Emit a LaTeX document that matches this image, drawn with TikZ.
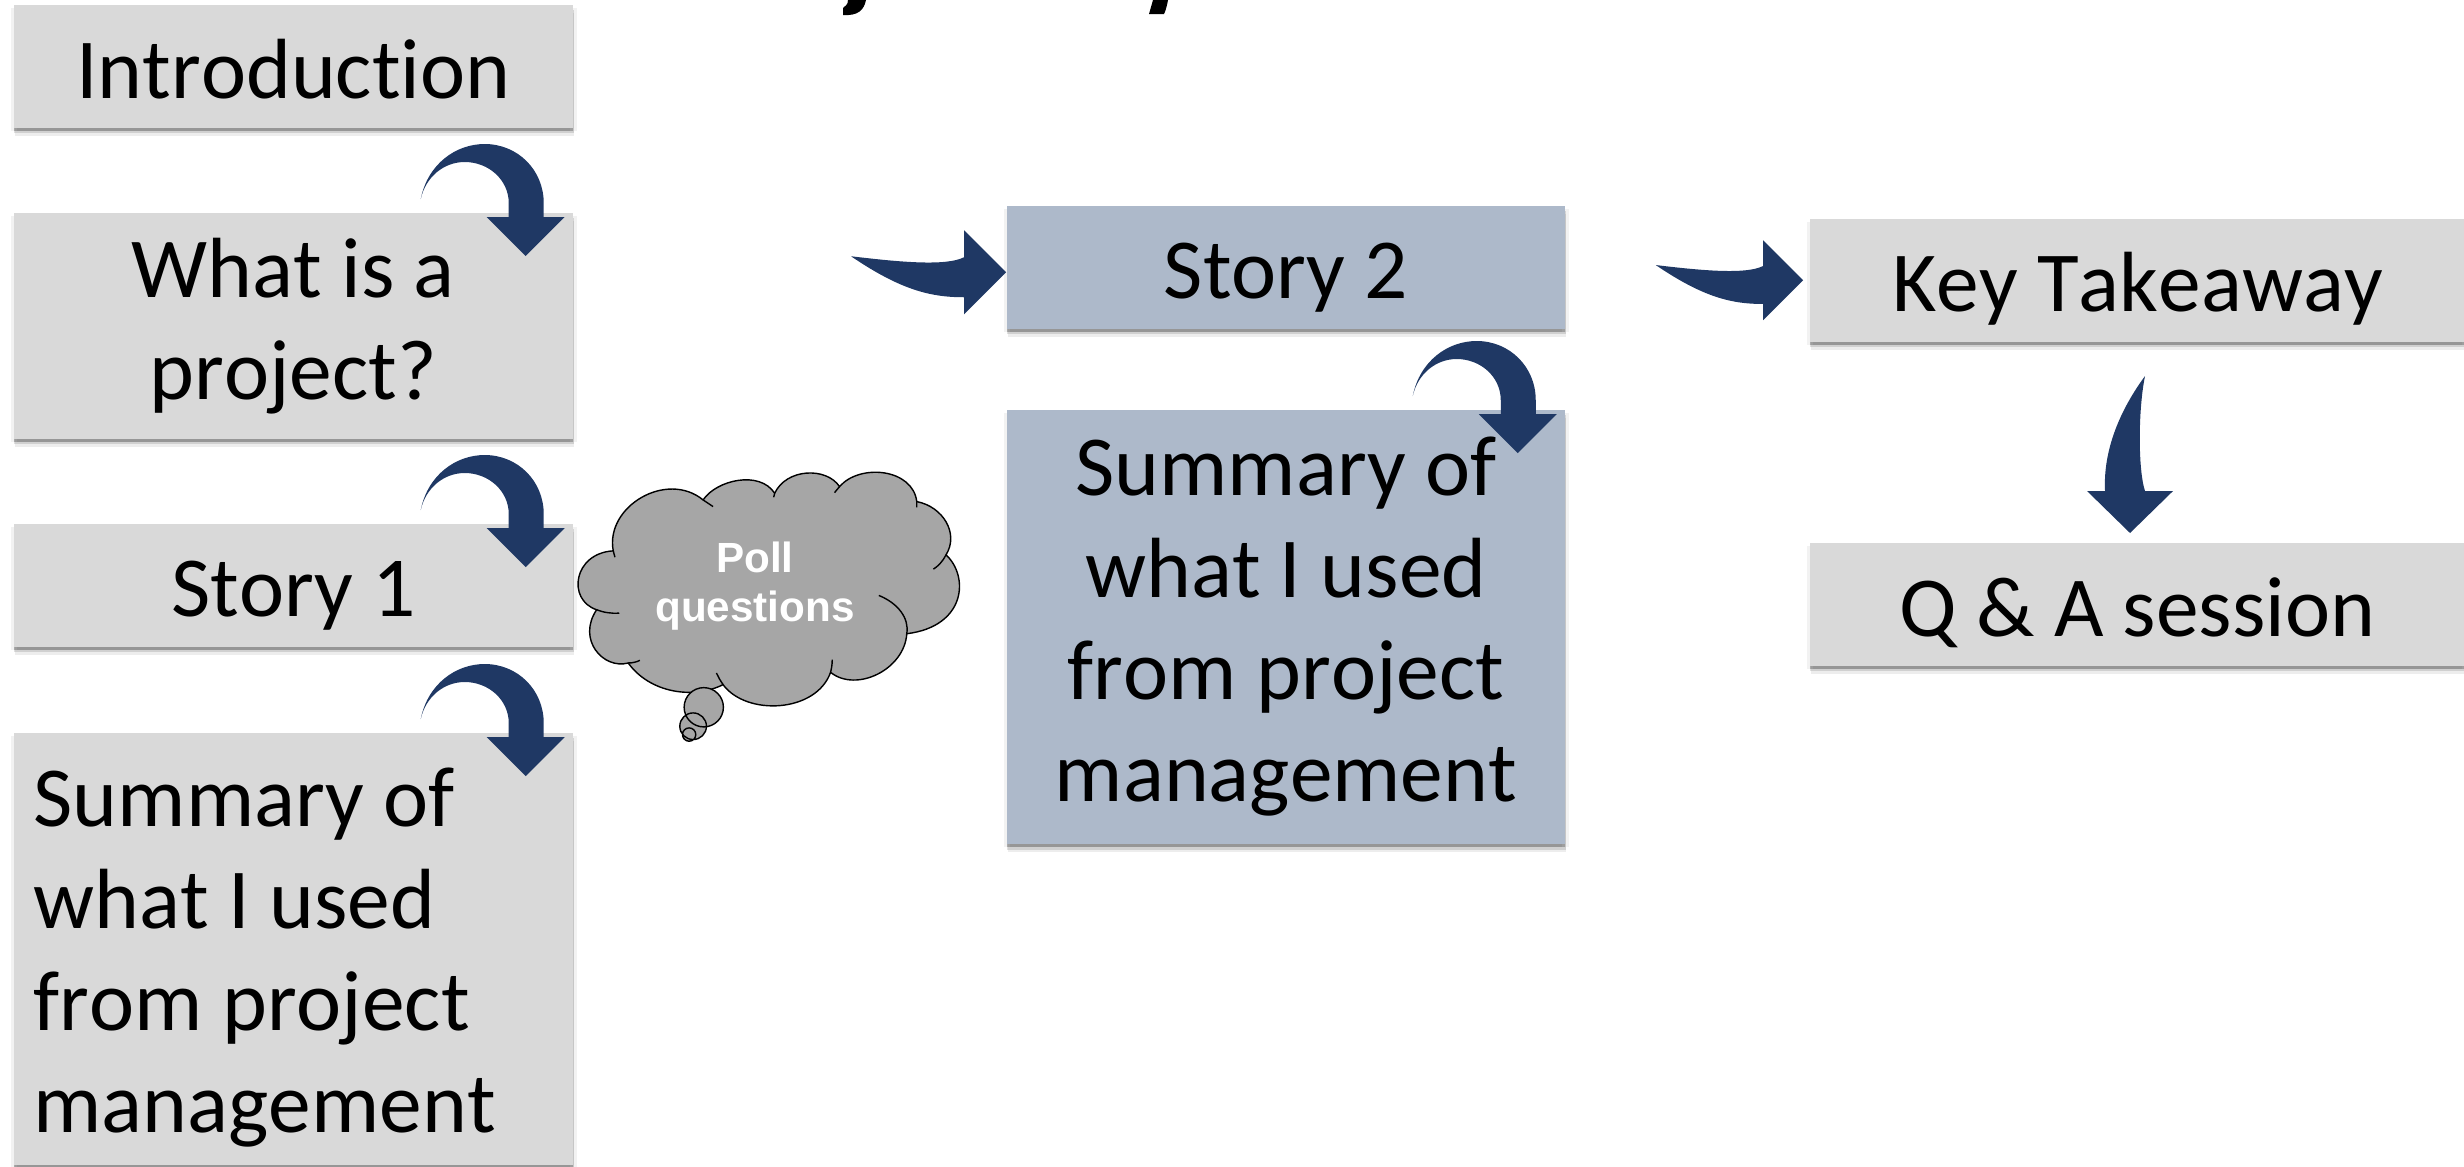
\documentclass[tikz,border=0pt]{standalone}
\usepackage{fontspec}
\setmainfont[Ligatures=NoCommon,Kerning=Off]{Carlito}
\newfontfamily\pollfont{Liberation Sans}
\usetikzlibrary{shadows}
\definecolor{arrowblue}{HTML}{1F3864}
\definecolor{boxgray}{HTML}{D9D9D9}
\definecolor{boxblue}{HTML}{ADB9CA}
\definecolor{cloudgray}{HTML}{A6A6A6}
\newcommand\boxstrut{\rule[-3.4pt]{0pt}{25pt}}
\tikzset{
    slide/.style={fill=#1, anchor=north west, inner sep=0pt, align=center,
        font=\fontsize{24.3}{29}\selectfont,
        execute at begin node=\boxstrut, execute at end node=\boxstrut,
        drop shadow={shadow xshift=-.8pt, shadow yshift=-.8pt, fill=black, opacity=.05},
        drop shadow={shadow xshift=1pt, shadow yshift=-.8pt, fill=black, opacity=.05},
        drop shadow={shadow xshift=.3pt, shadow yshift=-2.4pt, fill=black, opacity=.07},
        drop shadow={shadow xshift=.2pt, shadow yshift=-1.6pt, fill=black, opacity=.12},
        drop shadow={shadow xshift=.1pt, shadow yshift=-.8pt, fill=black, opacity=.2}},
    slide/.default=boxgray,
    turnarrow/.pic={
        \fill[arrowblue] (-153,-13) .. controls (-146,-48) and (-118,-68) .. (-89,-68)
            .. controls (-56,-68) and (-30,-42) .. (-30,-9) -- (-30,5) -- (-9,5) -- (-48,44) -- (-87,5) -- (-65,5) -- (-65,-9)
            .. controls (-65,-32) and (-85,-50) .. (-109,-50)
            .. controls (-130,-50) and (-148,-35) .. (-153,-13) -- cycle;
    },
    swooparrow/.pic={
        \fill[arrowblue] (-155,-16) .. controls (-105,-10) and (-60,-6) .. (-42,-15) -- (-42,-42) -- (0,0) -- (-42,42) -- (-42,25)
            .. controls (-75,25) and (-105,18) .. (-155,-16) -- cycle;
    },
}

\begin{document}
\begin{tikzpicture}[x=.01cm,y=-.01cm]
      \useasboundingbox (0,0) rectangle (2464,1166);

      % cut off title
      \fill (843,15) .. controls (858,16) and (864,10) .. (866,0) -- (848,0) .. controls (848,5) and (845,6) .. (843,8) -- cycle;
      \fill (1149,14) -- (1164,14) .. controls (1166,10) and (1167,5) .. (1168,0) -- (1153,0) -- cycle;

      % boxes on the left
      \node[slide, minimum width=5.59cm, minimum height=1.23cm] (intro) at (13,4) {Introduction};
      \node[slide, minimum width=5.59cm, minimum height=2.26cm] (project) at (13,212) {What is a\\project?};
      \node[slide, minimum width=5.59cm, minimum height=1.23cm] (story1) at (13,523) {Story 1};
      \node[slide, minimum width=5.59cm, minimum height=4.32cm, align=flush left, text width=5.19cm] (summary1) at (13,732) {Summary of\\what I used\\from project\\management};

      % boxes in the middle
      \node[slide=boxblue, minimum width=5.58cm, minimum height=1.23cm] (story2) at (1006,205) {Story 2};
      \node[slide=boxblue, minimum width=5.58cm, minimum height=4.34cm] (summary2) at (1006,409) {Summary of\\what I used\\from project\\management};

      % boxes on the right
      \node[slide, minimum width=6.55cm, minimum height=1.23cm] (takeaway) at (1809,218) {Key Takeaway};
      \node[slide, minimum width=6.55cm, minimum height=1.23cm] (qa) at (1809,542) {Q \& A session};

      \pic at (project.north east) {turnarrow};
      \pic at (story1.north east) {turnarrow};
      \pic at (summary1.north east) {turnarrow};
      \pic at (summary2.north east) {turnarrow};

      % arrows towards the boxes
      \pic at ([yshift=-.05cm]story2.west) {swooparrow};
      \pic[scale=.95] at ([xshift=-.06cm]takeaway.west) {swooparrow};
      \fill[arrowblue] (2145,376) .. controls (2138,410) and (2138,470) .. (2145,491) -- (2173,491) -- (2130,533) -- (2087,491) -- (2105,491)
          .. controls (2103,450) and (2120,410) .. (2145,376) -- cycle;

      % cloud
      \begin{scope}[shift={(560,450)},x=.00333cm,y=-.00333cm]
      \filldraw[fill=cloudgray, draw=black, line width=.4pt]
          (160,303) .. controls (135,170) and (320,60) .. (430,150)
          .. controls (470,90) and (600,60) .. (645,130)
          .. controls (680,55) and (800,50) .. (840,110)
          .. controls (900,40) and (1060,55) .. (1072,155)
          .. controls (1150,170) and (1200,250) .. (1160,315)
          .. controls (1230,380) and (1220,530) .. (1042,552)
          .. controls (1035,660) and (890,730) .. (813,668)
          .. controls (770,790) and (560,800) .. (490,705)
          .. controls (400,750) and (270,730) .. (205,640)
          .. controls (130,660) and (50,570) .. (110,480)
          .. controls (20,450) and (40,310) .. (160,303) -- cycle;
      \draw[line width=.4pt] (160,303) -- (165,322) (430,150) -- (460,170) (645,130) -- (642,142) (840,110) -- (825,128) (1072,155) -- (1072,172);
      \draw[line width=.4pt] (1160,315) .. controls (1150,335) and (1135,350) .. (1122,358);
      \draw[line width=.4pt] (958,437) .. controls (1015,460) and (1050,505) .. (1042,552);
      \draw[line width=.4pt] (813,668) .. controls (816,655) and (818,645) .. (818,630);
      \draw[line width=.4pt] (470,670) .. controls (478,685) and (482,695) .. (490,705);
      \draw[line width=.4pt] (205,640) .. controls (220,640) and (232,636) .. (240,632);
      \draw[line width=.4pt] (110,480) .. controls (130,488) and (155,492) .. (178,490);
      \fill[cloudgray] (432,773) circle (59) (400,830) circle (40) (388,855) circle (20);
      \draw[line width=.4pt] (432,773) circle (59) (400,830) circle (40) (388,855) circle (20);
      \end{scope}
      \node[font=\pollfont\bfseries\fontsize{12}{14}\selectfont, text=white, align=center, inner sep=0pt] (poll) at (755,586) {Poll\\questions};
\end{tikzpicture}
\end{document}
